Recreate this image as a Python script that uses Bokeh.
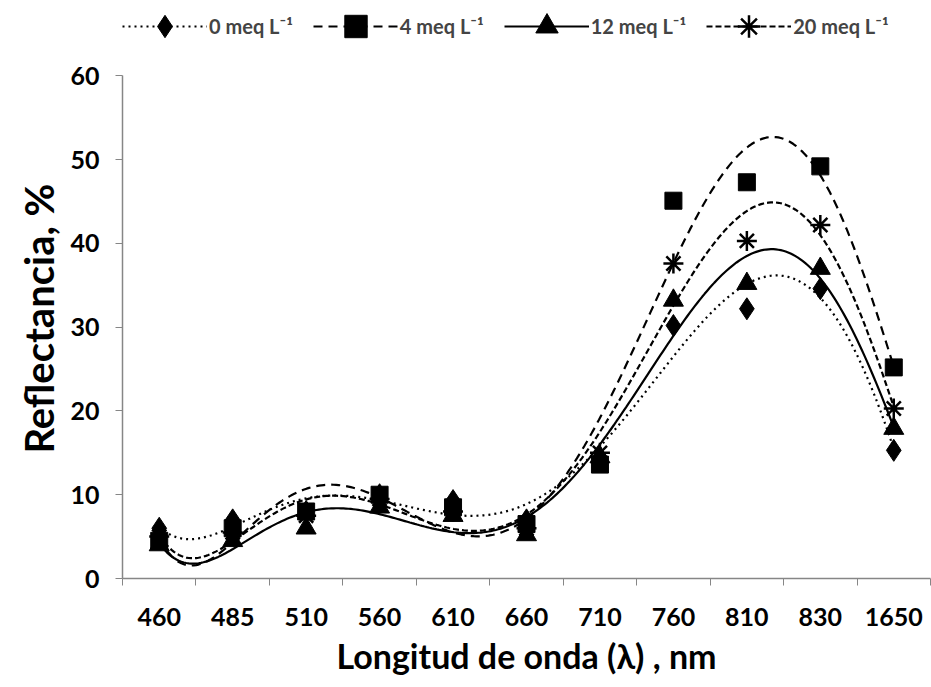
import numpy as np
from bokeh.plotting import figure
from bokeh.models import FixedTicker, Legend, LegendItem, Range1d
from bokeh.embed import file_html
from bokeh.resources import INLINE

categories = ["460", "485", "510", "560", "610", "660", "710", "760", "810", "830", "1650"]
meq0 = [6.0, 7.0, 8.0, 10.0, 9.3, 7.0, 14.5, 30.2, 32.2, 34.6, 15.3]
meq4 = [4.5, 6.0, 8.0, 10.0, 8.5, 6.5, 13.6, 45.1, 47.3, 49.2, 25.2]
meq12 = [4.0, 4.5, 6.0, 8.5, 7.5, 5.2, 14.5, 33.2, 35.2, 37.0, 17.9]
meq20 = [5.0, 5.5, 7.5, 9.5, 8.0, 6.0, 15.0, 37.6, 40.3, 42.2, 20.3]
labels = ["0 meq L\u207b\u00b9", "4 meq L\u207b\u00b9", "12 meq L\u207b\u00b9", "20 meq L\u207b\u00b9"]
series = [meq0, meq4, meq12, meq20]
markers = ["diamond", "square", "triangle", "asterisk"]
marker_sizes = [22, 17, 20, 20]
dashes = ["dotted", "9 6", "solid", "6 3"]
y_ticks = [0, 10, 20, 30, 40, 50, 60]

FONT = "Lato"
xs = np.arange(1, len(categories) + 1)

# frame extends to the top of the canvas so the legend can sit above the plotted area
p = figure(width=931, height=687, output_backend="svg", toolbar_location=None,
           x_range=Range1d(0.5, 11.5), y_range=Range1d(0, 69),
           min_border_left=122, min_border_right=1, min_border_top=0, min_border_bottom=109)
p.outline_line_color = None
p.xgrid.visible = False
p.ygrid.visible = False

items = []
xf = np.linspace(1, 11, 300)
for vals, lab, mk, ms, dash in zip(series, labels, markers, marker_sizes, dashes):
    coef = np.polyfit(xs, vals, 6)
    yf = np.polyval(coef, xf)
    lr = p.line(xf, yf, line_color="black", line_width=2.2, line_dash=dash)
    if mk == "asterisk":
        sr = p.scatter(xs, vals, marker=mk, size=ms, line_color="black", line_width=2.5)
    else:
        sr = p.scatter(xs, vals, marker=mk, size=ms, fill_color="black", line_color="black")
    items.append(LegendItem(label=lab, renderers=[lr, sr]))

# axes
p.xaxis.ticker = FixedTicker(ticks=list(xs), minor_ticks=[i + 0.5 for i in range(0, 12)])
p.xaxis.major_label_overrides = {int(i): c for i, c in zip(xs, categories)}
p.xaxis.major_tick_line_color = None
p.xaxis.minor_tick_line_color = "#868686"
p.xaxis.minor_tick_out = 7
p.xaxis.minor_tick_in = 0
p.yaxis.ticker = FixedTicker(ticks=y_ticks, minor_ticks=[])
p.yaxis.bounds = (y_ticks[0], y_ticks[-1])
p.yaxis.major_tick_line_color = "#868686"
p.yaxis.major_tick_out = 7
p.yaxis.major_tick_in = 0
for ax in (p.xaxis, p.yaxis):
    ax.axis_line_color = "#868686"
    ax.axis_line_width = 1.5
    ax.major_label_text_font = FONT
    ax.major_label_text_font_style = "bold"
    ax.major_label_text_font_size = "25px"
    ax.major_label_text_color = "black"
    ax.axis_label_text_font = FONT
    ax.axis_label_text_font_style = "bold"
    ax.axis_label_text_color = "black"
p.xaxis.major_label_standoff = 22
p.yaxis.major_label_standoff = 16
p.xaxis.axis_label = "Longitud de onda (\u03bb) , nm"
p.xaxis.axis_label_text_font_size = "34px"
p.xaxis.axis_label_standoff = 6
p.yaxis.axis_label = "Reflectancia, %" + "\u00a0" * 6
p.yaxis.axis_label_text_font_size = "40px"
p.yaxis.axis_label_standoff = 4

legend = Legend(items=items, orientation="horizontal", location=(0, 524))
legend.border_line_color = None
legend.background_fill_alpha = 0
legend.label_text_font = FONT
legend.label_text_font_style = "bold"
legend.label_text_font_size = "20px"
legend.glyph_width = 85
legend.glyph_height = 56
legend.label_standoff = 2
legend.spacing = 20
legend.padding = 0
legend.margin = 0
p.add_layout(legend, "center")

open("out.html", "w").write(file_html(p, INLINE))
